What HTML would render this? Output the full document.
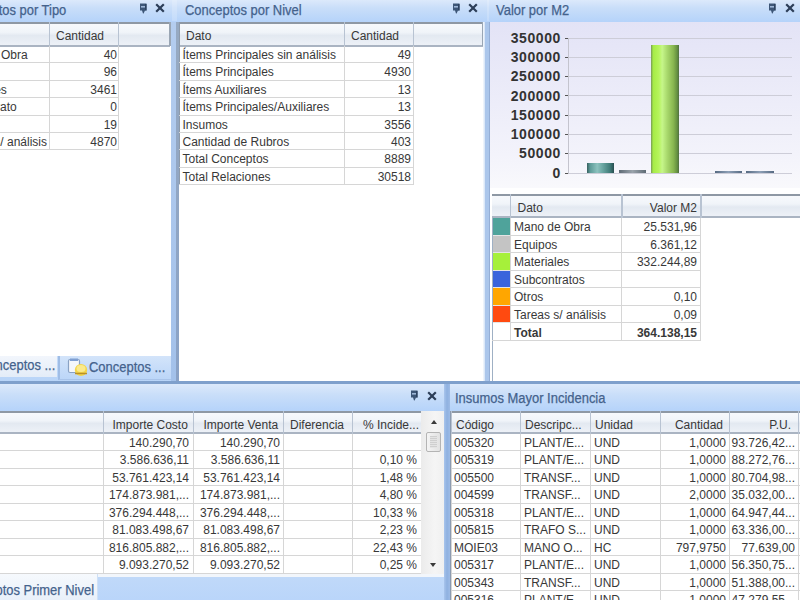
<!DOCTYPE html><html><head><meta charset="utf-8"><style>
*{margin:0;padding:0;box-sizing:border-box}
html,body{width:800px;height:600px;overflow:hidden;background:#fff;font-family:"Liberation Sans",sans-serif}
.abs{position:absolute}
.tb{position:absolute;background:linear-gradient(#dce9fb,#c9def9 40%,#b5d3fa);}
.tt{position:absolute;font-size:14px;line-height:16px;color:#44628c;white-space:nowrap;transform:scaleX(0.925);transform-origin:0 0;-webkit-text-stroke:0.25px #44628c}
.hd{position:absolute;background:linear-gradient(#f7f9fc,#f0f4f9 40%,#e3e9f1 55%,#edf1f7);}
.t{position:absolute;font-size:12px;color:#383838;white-space:nowrap;line-height:14px}
.r{text-align:right}
.vl{position:absolute;background:#c9cdd3;width:1px}
.hl{position:absolute;background:#d4d4d4;height:1px}
.hvl{position:absolute;background:#a8b8cc;width:1px}
</style></head><body><div id="w" style="position:absolute;left:0;top:0;width:800px;height:600px;">
<div class="abs" style="left:-6px;top:-6px;width:812px;height:612px;background:#a9c7ef"></div>
<div class="abs" style="left:-6px;top:-6px;width:179px;height:387px;background:#fff"></div>
<div class="hd" style="left:-6px;top:22px;width:176px;height:25px;border-top:2px solid #8e98a4;border-bottom:2px solid #aab4c2"></div>
<div class="abs" style="left:169px;top:22px;width:2px;height:24px;background:#9aa6b4"></div>
<div class="abs" style="left:49px;top:22px;width:1px;height:24px;background:#b8c3d2"></div>
<div class="abs" style="left:118px;top:22px;width:1px;height:24px;background:#b8c3d2"></div>
<div class="t" style="left:56px;top:28.75px;">Cantidad</div>
<div class="t" style="left:-49px;top:48.0px;">Mano de Obra</div>
<div class="t r" style="left:-183px;top:48.0px;width:300px;">40</div>
<div class="abs" style="left:-6px;top:62.4px;width:125px;height:1px;background:#d6d6d6"></div>
<div class="t" style="left:-51px;top:65.4px;">Equipos</div>
<div class="t r" style="left:-183px;top:65.4px;width:300px;">96</div>
<div class="abs" style="left:-6px;top:79.8px;width:125px;height:1px;background:#d6d6d6"></div>
<div class="t" style="left:-48.5px;top:82.8px;">Materiales</div>
<div class="t r" style="left:-183px;top:82.8px;width:300px;">3461</div>
<div class="abs" style="left:-6px;top:97.19999999999999px;width:125px;height:1px;background:#d6d6d6"></div>
<div class="t" style="left:-48px;top:100.19999999999999px;">Subcontrato</div>
<div class="t r" style="left:-183px;top:100.19999999999999px;width:300px;">0</div>
<div class="abs" style="left:-6px;top:114.6px;width:125px;height:1px;background:#d6d6d6"></div>
<div class="t" style="left:-51px;top:117.6px;">Otros</div>
<div class="t r" style="left:-183px;top:117.6px;width:300px;">19</div>
<div class="abs" style="left:-6px;top:132.0px;width:125px;height:1px;background:#d6d6d6"></div>
<div class="t" style="left:-45px;top:135.0px;">Tareas s/ análisis</div>
<div class="t r" style="left:-183px;top:135.0px;width:300px;">4870</div>
<div class="abs" style="left:-6px;top:149.4px;width:125px;height:1px;background:#d6d6d6"></div>
<div class="abs" style="left:49px;top:46px;width:1px;height:104.39999999999999px;background:#d6d6d6"></div>
<div class="abs" style="left:118px;top:46px;width:1px;height:104.39999999999999px;background:#d6d6d6"></div>
<div class="abs" style="left:-6px;top:355.5px;width:179px;height:26px;background:linear-gradient(#c6dcf8,#b8d4f8)"></div>
<div class="abs" style="left:-6px;top:355.5px;width:63px;height:21px;background:linear-gradient(#f2f6fc,#e3ecf8)"></div>
<div class="tt" style="left:-21.3px;top:356.5px;">Conceptos ...</div>
<div class="abs" style="left:58px;top:355.5px;width:115.5px;height:24.5px;background:linear-gradient(#d3e4fa,#bcd6f8);border-left:2px solid #9fbde6;border-right:2px solid #9cb7dd;border-bottom:1px solid #a9c4ea"></div>
<svg class="abs" style="left:67px;top:358px" width="21" height="19" viewBox="0 0 21 19"><rect x="1.5" y="1.5" width="11" height="13" rx="1.5" fill="#f4f7fc" stroke="#8aa2c4" stroke-width="1.2"/><rect x="3" y="0.5" width="8" height="2.5" fill="#7f9fd2"/><ellipse cx="14" cy="12" rx="6.2" ry="6" fill="#f3d54a"/><ellipse cx="14" cy="10.5" rx="4.5" ry="3.5" fill="#fbea8c"/><path d="M8 15.5h12" stroke="#b9902a" stroke-width="1.5"/></svg>
<div class="tt" style="left:89px;top:358.5px;">Conceptos ...</div>
<div class="abs" style="left:170.7px;top:22px;width:5.3px;height:359px;background:linear-gradient(#b4cdef,#a3c1ea)"></div>
<div class="abs" style="left:176px;top:22px;width:2.5px;height:359px;background:linear-gradient(#97aac2,#8aa2c6)"></div>
<div class="abs" style="left:179px;top:-6px;width:307px;height:387px;background:#fff"></div>
<div class="hd" style="left:179px;top:22px;width:304px;height:25px;border-top:2px solid #8e98a4;border-bottom:2px solid #aab4c2"></div>
<div class="abs" style="left:179px;top:22px;width:1px;height:163.2px;background:#8e9bab"></div>
<div class="abs" style="left:482px;top:22px;width:2px;height:24px;background:#9aa6b4"></div>
<div class="abs" style="left:344px;top:22px;width:1px;height:24px;background:#b8c3d2"></div>
<div class="abs" style="left:413px;top:22px;width:1px;height:24px;background:#b8c3d2"></div>
<div class="t" style="left:186px;top:28.75px;">Dato</div>
<div class="t" style="left:351px;top:28.75px;">Cantidad</div>
<div class="t" style="left:182.5px;top:48.0px;">Ítems Principales sin análisis</div>
<div class="t r" style="left:111px;top:48.0px;width:300px;">49</div>
<div class="abs" style="left:179px;top:62.4px;width:235px;height:1px;background:#d6d6d6"></div>
<div class="t" style="left:182.5px;top:65.4px;">Ítems Principales</div>
<div class="t r" style="left:111px;top:65.4px;width:300px;">4930</div>
<div class="abs" style="left:179px;top:79.8px;width:235px;height:1px;background:#d6d6d6"></div>
<div class="t" style="left:182.5px;top:82.8px;">Ítems Auxiliares</div>
<div class="t r" style="left:111px;top:82.8px;width:300px;">13</div>
<div class="abs" style="left:179px;top:97.19999999999999px;width:235px;height:1px;background:#d6d6d6"></div>
<div class="t" style="left:182.5px;top:100.19999999999999px;">Ítems Principales/Auxiliares</div>
<div class="t r" style="left:111px;top:100.19999999999999px;width:300px;">13</div>
<div class="abs" style="left:179px;top:114.6px;width:235px;height:1px;background:#d6d6d6"></div>
<div class="t" style="left:182.5px;top:117.6px;">Insumos</div>
<div class="t r" style="left:111px;top:117.6px;width:300px;">3556</div>
<div class="abs" style="left:179px;top:132.0px;width:235px;height:1px;background:#d6d6d6"></div>
<div class="t" style="left:182.5px;top:135.0px;">Cantidad de Rubros</div>
<div class="t r" style="left:111px;top:135.0px;width:300px;">403</div>
<div class="abs" style="left:179px;top:149.4px;width:235px;height:1px;background:#d6d6d6"></div>
<div class="t" style="left:182.5px;top:152.39999999999998px;">Total Conceptos</div>
<div class="t r" style="left:111px;top:152.39999999999998px;width:300px;">8889</div>
<div class="abs" style="left:179px;top:166.79999999999998px;width:235px;height:1px;background:#d6d6d6"></div>
<div class="t" style="left:182.5px;top:169.79999999999998px;">Total Relaciones</div>
<div class="t r" style="left:111px;top:169.79999999999998px;width:300px;">30518</div>
<div class="abs" style="left:179px;top:184.2px;width:235px;height:1px;background:#d6d6d6"></div>
<div class="abs" style="left:344px;top:46px;width:1px;height:139.2px;background:#d6d6d6"></div>
<div class="abs" style="left:413px;top:46px;width:1px;height:139.2px;background:#d6d6d6"></div>
<div class="abs" style="left:483.3px;top:22px;width:2px;height:359px;background:linear-gradient(90deg,#f6f9fd,#d2e2f6)"></div>
<div class="abs" style="left:485.3px;top:22px;width:3.7px;height:359px;background:#abc6eb"></div>
<div class="abs" style="left:489px;top:22px;width:2.5px;height:359px;background:#94aed6"></div>
<div class="abs" style="left:490px;top:-6px;width:316px;height:387px;background:#fff"></div>
<div class="abs" style="left:490px;top:21px;width:316px;height:167px;background:linear-gradient(#e3e3f6,#f3f3fb 80%,#f9f9fc)"></div>
<div class="abs" style="left:568px;top:173px;width:224px;height:1px;background:#cdcdd8"></div>
<div class="abs" style="left:565px;top:173px;width:4px;height:1px;background:#555"></div>
<div class="t r" style="left:561px;top:165.7px;font-size:14px;font-weight:bold;letter-spacing:0.6px;color:#333;line-height:14px;left:461px;width:100px">0</div>
<div class="abs" style="left:568px;top:153px;width:224px;height:1px;background:#cdcdd8"></div>
<div class="abs" style="left:565px;top:153px;width:4px;height:1px;background:#555"></div>
<div class="t r" style="left:561px;top:146.39999999999998px;font-size:14px;font-weight:bold;letter-spacing:0.6px;color:#333;line-height:14px;left:461px;width:100px">50000</div>
<div class="abs" style="left:568px;top:134px;width:224px;height:1px;background:#cdcdd8"></div>
<div class="abs" style="left:565px;top:134px;width:4px;height:1px;background:#555"></div>
<div class="t r" style="left:561px;top:127.1px;font-size:14px;font-weight:bold;letter-spacing:0.6px;color:#333;line-height:14px;left:461px;width:100px">100000</div>
<div class="abs" style="left:568px;top:115px;width:224px;height:1px;background:#cdcdd8"></div>
<div class="abs" style="left:565px;top:115px;width:4px;height:1px;background:#555"></div>
<div class="t r" style="left:561px;top:107.79999999999998px;font-size:14px;font-weight:bold;letter-spacing:0.6px;color:#333;line-height:14px;left:461px;width:100px">150000</div>
<div class="abs" style="left:568px;top:95px;width:224px;height:1px;background:#cdcdd8"></div>
<div class="abs" style="left:565px;top:95px;width:4px;height:1px;background:#555"></div>
<div class="t r" style="left:561px;top:88.49999999999999px;font-size:14px;font-weight:bold;letter-spacing:0.6px;color:#333;line-height:14px;left:461px;width:100px">200000</div>
<div class="abs" style="left:568px;top:76px;width:224px;height:1px;background:#cdcdd8"></div>
<div class="abs" style="left:565px;top:76px;width:4px;height:1px;background:#555"></div>
<div class="t r" style="left:561px;top:69.19999999999999px;font-size:14px;font-weight:bold;letter-spacing:0.6px;color:#333;line-height:14px;left:461px;width:100px">250000</div>
<div class="abs" style="left:568px;top:57px;width:224px;height:1px;background:#cdcdd8"></div>
<div class="abs" style="left:565px;top:57px;width:4px;height:1px;background:#555"></div>
<div class="t r" style="left:561px;top:49.89999999999998px;font-size:14px;font-weight:bold;letter-spacing:0.6px;color:#333;line-height:14px;left:461px;width:100px">300000</div>
<div class="abs" style="left:568px;top:38px;width:224px;height:1px;background:#cdcdd8"></div>
<div class="abs" style="left:565px;top:38px;width:4px;height:1px;background:#555"></div>
<div class="t r" style="left:561px;top:30.599999999999994px;font-size:14px;font-weight:bold;letter-spacing:0.6px;color:#333;line-height:14px;left:461px;width:100px">350000</div>
<div class="abs" style="left:568px;top:37.6px;width:1px;height:136.1px;background:#c4c4ce"></div>
<div class="abs" style="left:586.5px;top:162.6px;width:27.5px;height:10.599999999999994px;background:linear-gradient(90deg,#36605f,#5e9c99 12%,#8cc2be 38%,#6aa6a2 58%,#407c79 85%,#284e50)"></div>
<div class="abs" style="left:619px;top:170.2px;width:27px;height:3.0px;background:linear-gradient(90deg,#5e6b75,#9aa3ab 50%,#5e6b75)"></div>
<div class="abs" style="left:651px;top:44.5px;width:27.5px;height:128.7px;background:linear-gradient(90deg,#789a58 0,#a6ec46 8%,#b6f45c 28%,#c6f68a 40%,#a8d86c 58%,#88b650 80%,#638e40 94%,#4f6d44)"></div>
<div class="abs" style="left:715px;top:171px;width:27px;height:2.1999999999999886px;background:linear-gradient(90deg,#566a82,#8d9fb6 50%,#566a82)"></div>
<div class="abs" style="left:746px;top:171px;width:28px;height:2.1999999999999886px;background:linear-gradient(90deg,#566a82,#8d9fb6 50%,#566a82)"></div>
<div class="abs" style="left:491.5px;top:193.5px;width:1px;height:190px;background:#9fb0c4"></div>
<div class="hd" style="left:492px;top:193.5px;width:314px;height:24.5px;border-top:2px solid #8e98a4;border-bottom:2px solid #aab4c2"></div>
<div class="abs" style="left:509.5px;top:193.5px;width:1.5px;height:24px;background:#b8c3d2"></div>
<div class="abs" style="left:621px;top:193.5px;width:1.5px;height:24px;background:#b8c3d2"></div>
<div class="abs" style="left:700px;top:193.5px;width:1.5px;height:24px;background:#b8c3d2"></div>
<div class="t" style="left:517.5px;top:201.15px;">Dato</div>
<div class="t r" style="left:397px;top:201.15px;width:300px;">Valor M2</div>
<div class="abs" style="left:492.5px;top:218.0px;width:17px;height:17.57px;background:#4fa39b"></div>
<div class="abs" style="left:492.5px;top:234.57px;width:17px;height:1.2px;background:#e4e4e4"></div>
<div class="t" style="left:514px;top:220.2px;">Mano de Obra</div>
<div class="t r" style="left:397px;top:220.2px;width:300px;">25.531,96</div>
<div class="abs" style="left:510px;top:234.57px;width:191px;height:1px;background:#d6d6d6"></div>
<div class="abs" style="left:492.5px;top:235.57px;width:17px;height:17.57px;background:#c4c4c4"></div>
<div class="abs" style="left:492.5px;top:252.14px;width:17px;height:1.2px;background:#e4e4e4"></div>
<div class="t" style="left:514px;top:237.76999999999998px;">Equipos</div>
<div class="t r" style="left:397px;top:237.76999999999998px;width:300px;">6.361,12</div>
<div class="abs" style="left:510px;top:252.14px;width:191px;height:1px;background:#d6d6d6"></div>
<div class="abs" style="left:492.5px;top:253.14px;width:17px;height:17.57px;background:#a6f03a"></div>
<div class="abs" style="left:492.5px;top:269.71px;width:17px;height:1.2px;background:#e4e4e4"></div>
<div class="t" style="left:514px;top:255.33999999999997px;">Materiales</div>
<div class="t r" style="left:397px;top:255.33999999999997px;width:300px;">332.244,89</div>
<div class="abs" style="left:510px;top:269.71px;width:191px;height:1px;background:#d6d6d6"></div>
<div class="abs" style="left:492.5px;top:270.71px;width:17px;height:17.57px;background:#3a64dc"></div>
<div class="abs" style="left:492.5px;top:287.28px;width:17px;height:1.2px;background:#e4e4e4"></div>
<div class="t" style="left:514px;top:272.90999999999997px;">Subcontratos</div>
<div class="t r" style="left:397px;top:272.90999999999997px;width:300px;"></div>
<div class="abs" style="left:510px;top:287.28px;width:191px;height:1px;background:#d6d6d6"></div>
<div class="abs" style="left:492.5px;top:288.28px;width:17px;height:17.57px;background:#ffa600"></div>
<div class="abs" style="left:492.5px;top:304.84999999999997px;width:17px;height:1.2px;background:#e4e4e4"></div>
<div class="t" style="left:514px;top:290.47999999999996px;">Otros</div>
<div class="t r" style="left:397px;top:290.47999999999996px;width:300px;">0,10</div>
<div class="abs" style="left:510px;top:304.84999999999997px;width:191px;height:1px;background:#d6d6d6"></div>
<div class="abs" style="left:492.5px;top:305.85px;width:17px;height:17.57px;background:#ff4a10"></div>
<div class="abs" style="left:492.5px;top:322.42px;width:17px;height:1.2px;background:#e4e4e4"></div>
<div class="t" style="left:514px;top:308.05px;">Tareas s/ análisis</div>
<div class="t r" style="left:397px;top:308.05px;width:300px;">0,09</div>
<div class="abs" style="left:510px;top:322.42px;width:191px;height:1px;background:#d6d6d6"></div>
<div class="abs" style="left:492.5px;top:323.42px;width:17px;height:17.57px;background:#ffffff"></div>
<div class="abs" style="left:492.5px;top:339.99px;width:17px;height:1.2px;background:#e4e4e4"></div>
<div class="t" style="left:514px;top:325.62px;"><b>Total</b></div>
<div class="t r" style="left:397px;top:325.62px;width:300px;"><b>364.138,15</b></div>
<div class="abs" style="left:510px;top:339.99px;width:191px;height:1px;background:#d6d6d6"></div>
<div class="abs" style="left:509.5px;top:218px;width:1.2px;height:122.99000000000001px;background:#d6d6d6"></div>
<div class="abs" style="left:621px;top:218px;width:1.2px;height:122.99000000000001px;background:#d6d6d6"></div>
<div class="abs" style="left:700px;top:218px;width:1.2px;height:122.99000000000001px;background:#d6d6d6"></div>
<div class="abs" style="left:492px;top:339.99px;width:18px;height:1px;background:#d6d6d6"></div>
<div class="tb" style="left:-6px;top:-6px;width:812px;height:27.5px;background:linear-gradient(#dce9fb 0 6px,#c9def9 14px,#b5d3fa)"></div>
<div class="tt" style="left:-46px;top:2px;">Conceptos por Tipo</div>
<svg class="abs" style="left:138.5px;top:3px" width="9" height="11" viewBox="0 0 9 11"><path d="M1 0.5h6.5v7H6L4.6 10.5H4L3 7.5H1z" fill="#3d5677"/><path d="M2 3h4v1.6H2z" fill="#9fb8d8"/><path d="M6.2 1h1.3v6.5H6.2z" fill="#2a3f5c"/></svg>
<svg class="abs" style="left:154.5px;top:3px" width="10" height="10" viewBox="0 0 10 10"><path d="M1.2 1.2L8.8 8.8M8.8 1.2L1.2 8.8" stroke="#2c3e58" stroke-width="2.2"/></svg>
<div class="abs" style="left:171.5px;top:-6px;width:5px;height:27px;background:rgba(255,255,255,0.18)"></div>
<div class="tt" style="left:184.5px;top:2px;">Conceptos por Nivel</div>
<svg class="abs" style="left:451.5px;top:2.5px" width="9" height="11" viewBox="0 0 9 11"><path d="M1 0.5h6.5v7H6L4.6 10.5H4L3 7.5H1z" fill="#3d5677"/><path d="M2 3h4v1.6H2z" fill="#9fb8d8"/><path d="M6.2 1h1.3v6.5H6.2z" fill="#2a3f5c"/></svg>
<svg class="abs" style="left:468px;top:3px" width="10" height="10" viewBox="0 0 10 10"><path d="M1.2 1.2L8.8 8.8M8.8 1.2L1.2 8.8" stroke="#2c3e58" stroke-width="2.2"/></svg>
<div class="abs" style="left:487px;top:-6px;width:2.3px;height:27px;background:rgba(255,255,255,0.18)"></div>
<div class="tt" style="left:496px;top:2px;">Valor por M2</div>
<svg class="abs" style="left:767.5px;top:2.5px" width="9" height="11" viewBox="0 0 9 11"><path d="M1 0.5h6.5v7H6L4.6 10.5H4L3 7.5H1z" fill="#3d5677"/><path d="M2 3h4v1.6H2z" fill="#9fb8d8"/><path d="M6.2 1h1.3v6.5H6.2z" fill="#2a3f5c"/></svg>
<svg class="abs" style="left:784.5px;top:3px" width="10" height="10" viewBox="0 0 10 10"><path d="M1.2 1.2L8.8 8.8M8.8 1.2L1.2 8.8" stroke="#2c3e58" stroke-width="2.2"/></svg>
<div class="abs" style="left:-6px;top:380.5px;width:812px;height:3.5px;background:#7fa0cc"></div>
<div class="abs" style="left:-6px;top:384px;width:451px;height:222px;background:#fff"></div>
<div class="tb" style="left:-6px;top:384px;width:451px;height:27px"></div>
<svg class="abs" style="left:410px;top:390px" width="9" height="11" viewBox="0 0 9 11"><path d="M1 0.5h6.5v7H6L4.6 10.5H4L3 7.5H1z" fill="#3d5677"/><path d="M2 3h4v1.6H2z" fill="#9fb8d8"/><path d="M6.2 1h1.3v6.5H6.2z" fill="#2a3f5c"/></svg>
<svg class="abs" style="left:426.5px;top:391px" width="10" height="10" viewBox="0 0 10 10"><path d="M1.2 1.2L8.8 8.8M8.8 1.2L1.2 8.8" stroke="#2c3e58" stroke-width="2.2"/></svg>
<div class="hd" style="left:-6px;top:410.5px;width:427px;height:23.5px;border-top:2px solid #8e98a4;border-bottom:2px solid #aab4c2"></div>
<div class="abs" style="left:102.5px;top:410.5px;width:1px;height:23px;background:#b8c3d2"></div>
<div class="abs" style="left:192.5px;top:410.5px;width:1px;height:23px;background:#b8c3d2"></div>
<div class="abs" style="left:283px;top:410.5px;width:1px;height:23px;background:#b8c3d2"></div>
<div class="abs" style="left:351.5px;top:410.5px;width:1px;height:23px;background:#b8c3d2"></div>
<div class="abs" style="left:420.5px;top:410.5px;width:1px;height:23px;background:#b8c3d2"></div>
<div class="t" style="left:112.5px;top:417.85px;">Importe Costo</div>
<div class="t" style="left:203.5px;top:417.85px;">Importe Venta</div>
<div class="t" style="left:290px;top:417.85px;">Diferencia</div>
<div class="t" style="left:363px;top:417.85px;">% Incide...</div>
<div class="t r" style="left:-111px;top:436.0px;width:300px;">140.290,70</div>
<div class="t r" style="left:-20px;top:436.0px;width:300px;">140.290,70</div>
<div class="t r" style="left:117px;top:436.0px;width:300px;"></div>
<div class="abs" style="left:-6px;top:450.45px;width:427px;height:1px;background:#d6d6d6"></div>
<div class="t r" style="left:-111px;top:453.45px;width:300px;">3.586.636,11</div>
<div class="t r" style="left:-20px;top:453.45px;width:300px;">3.586.636,11</div>
<div class="t r" style="left:117px;top:453.45px;width:300px;">0,10 %</div>
<div class="abs" style="left:-6px;top:467.9px;width:427px;height:1px;background:#d6d6d6"></div>
<div class="t r" style="left:-111px;top:470.9px;width:300px;">53.761.423,14</div>
<div class="t r" style="left:-20px;top:470.9px;width:300px;">53.761.423,14</div>
<div class="t r" style="left:117px;top:470.9px;width:300px;">1,48 %</div>
<div class="abs" style="left:-6px;top:485.34999999999997px;width:427px;height:1px;background:#d6d6d6"></div>
<div class="t r" style="left:-111px;top:488.35px;width:300px;">174.873.981,...</div>
<div class="t r" style="left:-20px;top:488.35px;width:300px;">174.873.981,...</div>
<div class="t r" style="left:117px;top:488.35px;width:300px;">4,80 %</div>
<div class="abs" style="left:-6px;top:502.8px;width:427px;height:1px;background:#d6d6d6"></div>
<div class="t r" style="left:-111px;top:505.8px;width:300px;">376.294.448,...</div>
<div class="t r" style="left:-20px;top:505.8px;width:300px;">376.294.448,...</div>
<div class="t r" style="left:117px;top:505.8px;width:300px;">10,33 %</div>
<div class="abs" style="left:-6px;top:520.25px;width:427px;height:1px;background:#d6d6d6"></div>
<div class="t r" style="left:-111px;top:523.25px;width:300px;">81.083.498,67</div>
<div class="t r" style="left:-20px;top:523.25px;width:300px;">81.083.498,67</div>
<div class="t r" style="left:117px;top:523.25px;width:300px;">2,23 %</div>
<div class="abs" style="left:-6px;top:537.7px;width:427px;height:1px;background:#d6d6d6"></div>
<div class="t r" style="left:-111px;top:540.7px;width:300px;">816.805.882,...</div>
<div class="t r" style="left:-20px;top:540.7px;width:300px;">816.805.882,...</div>
<div class="t r" style="left:117px;top:540.7px;width:300px;">22,43 %</div>
<div class="abs" style="left:-6px;top:555.1500000000001px;width:427px;height:1px;background:#d6d6d6"></div>
<div class="t r" style="left:-111px;top:558.15px;width:300px;">9.093.270,52</div>
<div class="t r" style="left:-20px;top:558.15px;width:300px;">9.093.270,52</div>
<div class="t r" style="left:117px;top:558.15px;width:300px;">0,25 %</div>
<div class="abs" style="left:-6px;top:572.6px;width:427px;height:1px;background:#d6d6d6"></div>
<div class="abs" style="left:102.5px;top:434px;width:1px;height:139.6px;background:#d6d6d6"></div>
<div class="abs" style="left:192.5px;top:434px;width:1px;height:139.6px;background:#d6d6d6"></div>
<div class="abs" style="left:283px;top:434px;width:1px;height:139.6px;background:#d6d6d6"></div>
<div class="abs" style="left:351.5px;top:434px;width:1px;height:139.6px;background:#d6d6d6"></div>
<div class="abs" style="left:420.5px;top:434px;width:1px;height:139.6px;background:#d6d6d6"></div>
<div class="abs" style="left:421px;top:411px;width:22.5px;height:165px;background:linear-gradient(90deg,#ebebeb,#f5f5f5 60%,#f0f0f0)"></div>
<div class="abs" style="left:430.5px;top:420px;width:0;height:0;border-left:3.5px solid transparent;border-right:3.5px solid transparent;border-bottom:4px solid #3a3a3a"></div>
<div class="abs" style="left:425.5px;top:432px;width:15.5px;height:20px;background:linear-gradient(90deg,#f4f4f4,#e2e2e2);border:1px solid #b4b4b4;border-radius:2px"></div>
<div class="abs" style="left:429.5px;top:436px;width:7px;height:12px;background:repeating-linear-gradient(#cfcfcf 0 1px,#e4e4e4 1px 2px)"></div>
<div class="abs" style="left:430px;top:562.5px;width:0;height:0;border-left:3.5px solid transparent;border-right:3.5px solid transparent;border-top:4px solid #3a3a3a"></div>
<div class="abs" style="left:-6px;top:573.5px;width:451px;height:4px;background:#f2f6fb"></div>
<div class="abs" style="left:98px;top:577px;width:347px;height:29px;background:linear-gradient(#c0d9f9,#b8d4fa)"></div>
<div class="abs" style="left:-6px;top:573.5px;width:104px;height:32.5px;background:linear-gradient(#f6f9fd,#e6eef9);border-right:1.5px solid #cfe0f5"></div>
<div class="tt" style="left:-42.5px;top:581.5px;">Conceptos Primer Nivel</div>
<div class="abs" style="left:443.5px;top:384px;width:6.5px;height:222px;background:linear-gradient(90deg,#a9c5ec,#8fb1e0 50%,#9dbbe6)"></div>
<div class="abs" style="left:450px;top:384px;width:356px;height:222px;background:#fff"></div>
<div class="tb" style="left:450px;top:384px;width:356px;height:27px"></div>
<div class="tt" style="left:454.5px;top:390px;">Insumos Mayor Incidencia</div>
<div class="abs" style="left:449.5px;top:411px;width:1.5px;height:195px;background:#8c9bb0"></div>
<div class="hd" style="left:451px;top:410.5px;width:355px;height:23.5px;border-top:2px solid #8e98a4;border-bottom:2px solid #aab4c2"></div>
<div class="abs" style="left:451px;top:410.5px;width:1px;height:23px;background:#b8c3d2"></div>
<div class="abs" style="left:520px;top:410.5px;width:1px;height:23px;background:#b8c3d2"></div>
<div class="abs" style="left:590px;top:410.5px;width:1px;height:23px;background:#b8c3d2"></div>
<div class="abs" style="left:659.5px;top:410.5px;width:1px;height:23px;background:#b8c3d2"></div>
<div class="abs" style="left:728.5px;top:410.5px;width:1px;height:23px;background:#b8c3d2"></div>
<div class="abs" style="left:797.5px;top:410.5px;width:1px;height:23px;background:#b8c3d2"></div>
<div class="t" style="left:456px;top:417.85px;">Código</div>
<div class="t" style="left:525px;top:417.85px;">Descripc...</div>
<div class="t" style="left:595px;top:417.85px;">Unidad</div>
<div class="t r" style="left:423px;top:417.85px;width:300px;">Cantidad</div>
<div class="t r" style="left:491px;top:417.85px;width:300px;">P.U.</div>
<div class="t" style="left:454px;top:436.0px;">005320</div>
<div class="t" style="left:524px;top:436.0px;">PLANT/E...</div>
<div class="t" style="left:594px;top:436.0px;">UND</div>
<div class="t r" style="left:426px;top:436.0px;width:300px;">1,0000</div>
<div class="t r" style="left:731px;top:436.0px;width:64px;overflow:hidden;direction:rtl"><span style="direction:ltr;unicode-bidi:bidi-override">93.726,42...</span></div>
<div class="abs" style="left:451px;top:450.47px;width:355px;height:1px;background:#d6d6d6"></div>
<div class="t" style="left:454px;top:453.47px;">005319</div>
<div class="t" style="left:524px;top:453.47px;">PLANT/E...</div>
<div class="t" style="left:594px;top:453.47px;">UND</div>
<div class="t r" style="left:426px;top:453.47px;width:300px;">1,0000</div>
<div class="t r" style="left:731px;top:453.47px;width:64px;overflow:hidden;direction:rtl"><span style="direction:ltr;unicode-bidi:bidi-override">88.272,76...</span></div>
<div class="abs" style="left:451px;top:467.94000000000005px;width:355px;height:1px;background:#d6d6d6"></div>
<div class="t" style="left:454px;top:470.94px;">005500</div>
<div class="t" style="left:524px;top:470.94px;">TRANSF...</div>
<div class="t" style="left:594px;top:470.94px;">UND</div>
<div class="t r" style="left:426px;top:470.94px;width:300px;">1,0000</div>
<div class="t r" style="left:731px;top:470.94px;width:64px;overflow:hidden;direction:rtl"><span style="direction:ltr;unicode-bidi:bidi-override">80.704,98...</span></div>
<div class="abs" style="left:451px;top:485.40999999999997px;width:355px;height:1px;background:#d6d6d6"></div>
<div class="t" style="left:454px;top:488.40999999999997px;">004599</div>
<div class="t" style="left:524px;top:488.40999999999997px;">TRANSF...</div>
<div class="t" style="left:594px;top:488.40999999999997px;">UND</div>
<div class="t r" style="left:426px;top:488.40999999999997px;width:300px;">2,0000</div>
<div class="t r" style="left:731px;top:488.40999999999997px;width:64px;overflow:hidden;direction:rtl"><span style="direction:ltr;unicode-bidi:bidi-override">35.032,00...</span></div>
<div class="abs" style="left:451px;top:502.88px;width:355px;height:1px;background:#d6d6d6"></div>
<div class="t" style="left:454px;top:505.88px;">005318</div>
<div class="t" style="left:524px;top:505.88px;">PLANT/E...</div>
<div class="t" style="left:594px;top:505.88px;">UND</div>
<div class="t r" style="left:426px;top:505.88px;width:300px;">1,0000</div>
<div class="t r" style="left:731px;top:505.88px;width:64px;overflow:hidden;direction:rtl"><span style="direction:ltr;unicode-bidi:bidi-override">64.947,44...</span></div>
<div class="abs" style="left:451px;top:520.35px;width:355px;height:1px;background:#d6d6d6"></div>
<div class="t" style="left:454px;top:523.35px;">005815</div>
<div class="t" style="left:524px;top:523.35px;">TRAFO S...</div>
<div class="t" style="left:594px;top:523.35px;">UND</div>
<div class="t r" style="left:426px;top:523.35px;width:300px;">1,0000</div>
<div class="t r" style="left:731px;top:523.35px;width:64px;overflow:hidden;direction:rtl"><span style="direction:ltr;unicode-bidi:bidi-override">63.336,00...</span></div>
<div class="abs" style="left:451px;top:537.82px;width:355px;height:1px;background:#d6d6d6"></div>
<div class="t" style="left:454px;top:540.8199999999999px;">MOIE03</div>
<div class="t" style="left:524px;top:540.8199999999999px;">MANO O...</div>
<div class="t" style="left:594px;top:540.8199999999999px;">HC</div>
<div class="t r" style="left:426px;top:540.8199999999999px;width:300px;">797,9750</div>
<div class="t r" style="left:731px;top:540.8199999999999px;width:64px;overflow:hidden;direction:rtl"><span style="direction:ltr;unicode-bidi:bidi-override">77.639,00</span></div>
<div class="abs" style="left:451px;top:555.29px;width:355px;height:1px;background:#d6d6d6"></div>
<div class="t" style="left:454px;top:558.29px;">005317</div>
<div class="t" style="left:524px;top:558.29px;">PLANT/E...</div>
<div class="t" style="left:594px;top:558.29px;">UND</div>
<div class="t r" style="left:426px;top:558.29px;width:300px;">1,0000</div>
<div class="t r" style="left:731px;top:558.29px;width:64px;overflow:hidden;direction:rtl"><span style="direction:ltr;unicode-bidi:bidi-override">56.350,75...</span></div>
<div class="abs" style="left:451px;top:572.76px;width:355px;height:1px;background:#d6d6d6"></div>
<div class="t" style="left:454px;top:575.76px;">005343</div>
<div class="t" style="left:524px;top:575.76px;">TRANSF...</div>
<div class="t" style="left:594px;top:575.76px;">UND</div>
<div class="t r" style="left:426px;top:575.76px;width:300px;">1,0000</div>
<div class="t r" style="left:731px;top:575.76px;width:64px;overflow:hidden;direction:rtl"><span style="direction:ltr;unicode-bidi:bidi-override">51.388,00...</span></div>
<div class="abs" style="left:451px;top:590.23px;width:355px;height:1px;background:#d6d6d6"></div>
<div class="t" style="left:454px;top:593.23px;">005316</div>
<div class="t" style="left:524px;top:593.23px;">PLANT/E...</div>
<div class="t" style="left:594px;top:593.23px;">UND</div>
<div class="t r" style="left:426px;top:593.23px;width:300px;">1,0000</div>
<div class="t r" style="left:731px;top:593.23px;width:64px;overflow:hidden;direction:rtl"><span style="direction:ltr;unicode-bidi:bidi-override">47.279,55...</span></div>
<div class="abs" style="left:451px;top:607.7px;width:355px;height:7px;background:#d6d6d6"></div>
<div class="abs" style="left:451px;top:434px;width:1px;height:172px;background:#d6d6d6"></div>
<div class="abs" style="left:520px;top:434px;width:1px;height:172px;background:#d6d6d6"></div>
<div class="abs" style="left:590px;top:434px;width:1px;height:172px;background:#d6d6d6"></div>
<div class="abs" style="left:659.5px;top:434px;width:1px;height:172px;background:#d6d6d6"></div>
<div class="abs" style="left:728.5px;top:434px;width:1px;height:172px;background:#d6d6d6"></div>
<div class="abs" style="left:797.5px;top:434px;width:1px;height:172px;background:#d6d6d6"></div>
</div></body></html>
